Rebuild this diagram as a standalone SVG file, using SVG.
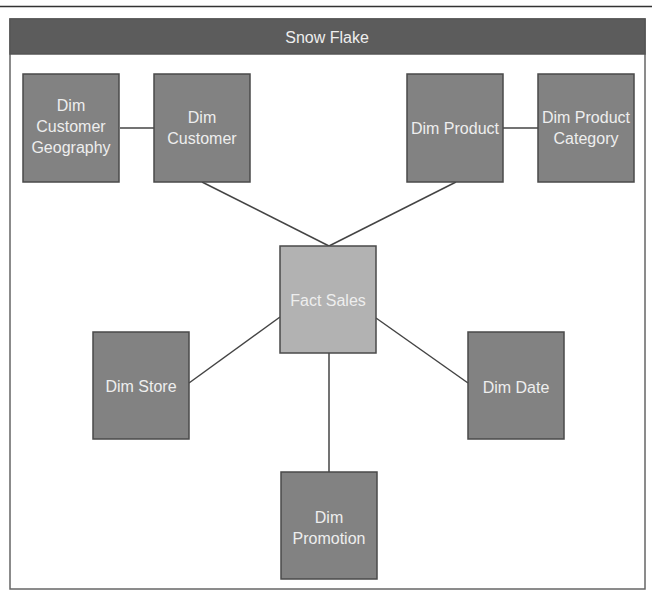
<svg xmlns="http://www.w3.org/2000/svg" width="652" height="597" viewBox="0 0 652 597">
<style>
.dim{fill:#828282;stroke:#4a4a4a;stroke-width:1.5}
.fact{fill:#b2b2b2;stroke:#4a4a4a;stroke-width:1.5}
.t{font-family:"Liberation Sans",Arial,sans-serif;font-size:16px;fill:#eeeeee;text-anchor:middle}
.c{stroke:#444;stroke-width:1.5;fill:none}
</style>
<rect width="652" height="597" fill="#ffffff"/>
<line x1="0" y1="6.5" x2="652" y2="6.5" stroke="#333" stroke-width="1.5"/>
<g id="frame">
<rect x="10" y="19" width="635" height="570" fill="#ffffff" stroke="#666" stroke-width="1.5"/>
<rect x="10" y="19" width="635" height="35" fill="#5c5c5c" stroke="#555" stroke-width="1.5"/>
<text class="t" x="327" y="43">Snow Flake</text>
</g>
<g id="connectors">
<line class="c" x1="120" y1="128" x2="154" y2="128"/>
<line class="c" x1="503" y1="128" x2="538" y2="128"/>
<line class="c" x1="202" y1="182" x2="329" y2="246"/>
<line class="c" x1="456" y1="182" x2="329" y2="246"/>
<line class="c" x1="189" y1="383" x2="280" y2="317"/>
<line class="c" x1="376" y1="318" x2="468" y2="383"/>
<line class="c" x1="329" y1="353" x2="329" y2="472"/>
</g>
<g id="dim-customer-geography">
<rect class="dim" x="23" y="74" width="96" height="108"/>
<text class="t" x="71" y="111">Dim</text>
<text class="t" x="71" y="132">Customer</text>
<text class="t" x="71" y="153">Geography</text>
</g>
<g id="dim-customer">
<rect class="dim" x="154" y="74" width="96" height="108"/>
<text class="t" x="202" y="123">Dim</text>
<text class="t" x="202" y="144">Customer</text>
</g>
<g id="dim-product">
<rect class="dim" x="407" y="74" width="96" height="108"/>
<text class="t" x="455" y="134">Dim Product</text>
</g>
<g id="dim-product-category">
<rect class="dim" x="538" y="74" width="96" height="108"/>
<text class="t" x="586" y="123">Dim Product</text>
<text class="t" x="586" y="144">Category</text>
</g>
<g id="fact-sales">
<rect class="fact" x="280" y="246" width="96" height="107"/>
<text class="t" x="328" y="306">Fact Sales</text>
</g>
<g id="dim-store">
<rect class="dim" x="93" y="332" width="96" height="107"/>
<text class="t" x="141" y="392">Dim Store</text>
</g>
<g id="dim-date">
<rect class="dim" x="468" y="332" width="96" height="107"/>
<text class="t" x="516" y="393">Dim Date</text>
</g>
<g id="dim-promotion">
<rect class="dim" x="281" y="472" width="96" height="107"/>
<text class="t" x="329" y="523">Dim</text>
<text class="t" x="329" y="544">Promotion</text>
</g>
</svg>
